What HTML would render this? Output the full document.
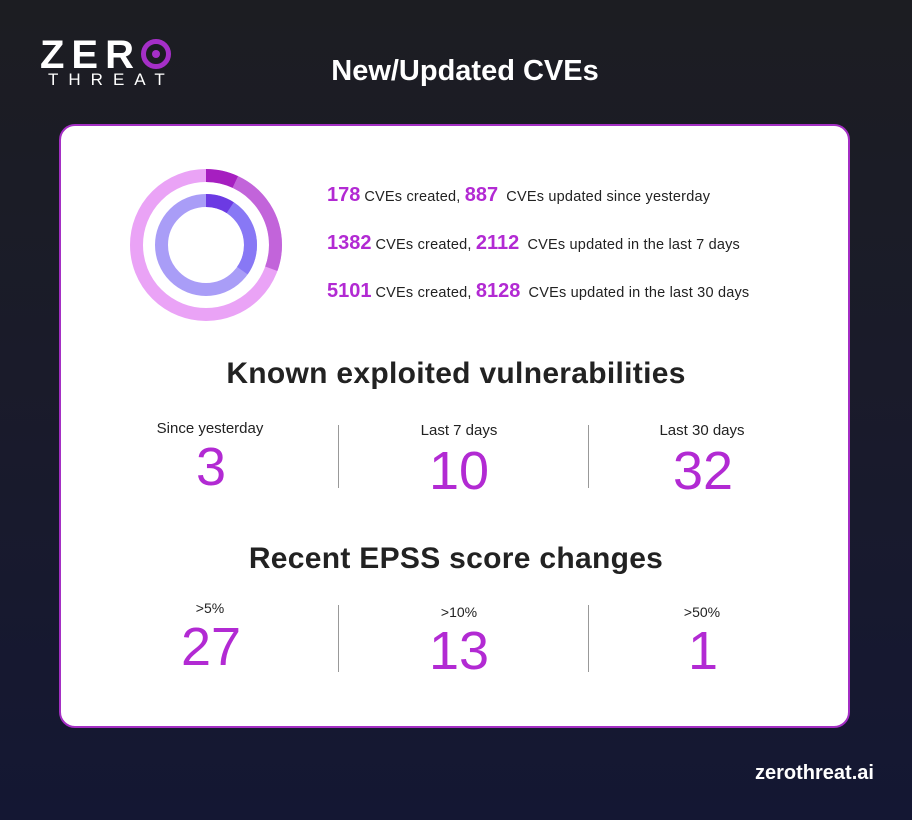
<!DOCTYPE html>
<html><head><style>
*{margin:0;padding:0;box-sizing:border-box}
body{width:912px;height:820px;overflow:hidden;background:linear-gradient(180deg,#1c1d22 0%,#1a1b2a 45%,#141733 100%);font-family:"Liberation Sans",sans-serif;position:relative}
.a{position:absolute;white-space:nowrap}
.card{position:absolute;left:59px;top:124px;width:791px;height:604px;background:#fff;border:2px solid #a42fc4;border-radius:16px}
.row{font-size:14.5px;color:#222;letter-spacing:0.2px}
.row b{font-size:20px;color:#b22ad3;margin-right:4px;letter-spacing:0}
.h{font-size:30px;font-weight:bold;color:#222;width:100%;text-align:center;left:0;letter-spacing:0.3px}
.lbl{font-size:15px;color:#222;transform:translateX(-50%)}
.num{font-size:54px;color:#b22ad3;transform:translateX(-50%);font-weight:normal}
.div{position:absolute;width:1px;background:#999}
</style></head><body>
<div class="a" style="left:40px;top:33px;font-size:40px;font-weight:bold;color:#fff;letter-spacing:7px">ZER<span style="display:inline-block;width:30px;height:30px;border:5px solid #a52fc8;border-radius:50%;position:relative;top:1px"><span style="position:absolute;left:6px;top:6px;width:8px;height:8px;border-radius:50%;background:#a52fc8"></span></span></div>
<div class="a" style="left:48px;top:70px;font-size:17px;color:#fff;letter-spacing:10px">THREAT</div>
<div class="a" style="left:0;width:930px;text-align:center;top:55px;font-size:29px;font-weight:bold;color:#fff">New/Updated CVEs</div>
<div class="card"></div>
<svg class="a" style="left:0;top:0" width="912" height="820">
<g transform="rotate(-90 206 245)" fill="none" stroke-width="13">
<circle cx="206" cy="245" r="69.5" stroke="#eaa3f6"/>
<circle cx="206" cy="245" r="69.5" stroke="#c264da" stroke-dasharray="0 30.3 103.1 400"/>
<circle cx="206" cy="245" r="69.5" stroke="#a61fc0" stroke-dasharray="30.3 500"/>
<circle cx="206" cy="245" r="44.5" stroke="#a99df7"/>
<circle cx="206" cy="245" r="44.5" stroke="#8878f5" stroke-dasharray="0 25.6 71.5 300"/>
<circle cx="206" cy="245" r="44.5" stroke="#6c3ae3" stroke-dasharray="25.6 300"/>
</g></svg>
<div class="a row" style="left:327px;top:184px"><b>178</b>CVEs created, <b>887</b> CVEs updated since yesterday</div>
<div class="a row" style="left:327px;top:232px"><b>1382</b>CVEs created, <b>2112</b> CVEs updated in the last 7 days</div>
<div class="a row" style="left:327px;top:280px"><b>5101</b>CVEs created, <b>8128</b> CVEs updated in the last 30 days</div>
<div class="a h" style="top:357px">Known exploited vulnerabilities</div>
<div class="a lbl" style="left:210px;top:420px">Since yesterday</div>
<div class="a lbl" style="left:459px;top:422px">Last 7 days</div>
<div class="a lbl" style="left:702px;top:422px">Last 30 days</div>
<div class="a num" style="left:211px;top:436px">3</div>
<div class="a num" style="left:459px;top:440px">10</div>
<div class="a num" style="left:703px;top:440px">32</div>
<div class="div" style="left:338px;top:425px;height:63px"></div>
<div class="div" style="left:588px;top:425px;height:63px"></div>
<div class="a h" style="top:542px">Recent EPSS score changes</div>
<div class="a lbl" style="left:210px;top:600px;font-size:14px">&gt;5%</div>
<div class="a lbl" style="left:459px;top:604px;font-size:14px">&gt;10%</div>
<div class="a lbl" style="left:702px;top:604px;font-size:14px">&gt;50%</div>
<div class="a num" style="left:211px;top:616px">27</div>
<div class="a num" style="left:459px;top:620px">13</div>
<div class="a num" style="left:703px;top:620px">1</div>
<div class="div" style="left:338px;top:605px;height:67px"></div>
<div class="div" style="left:588px;top:605px;height:67px"></div>
<div class="a" style="left:755px;top:762px;font-size:20px;font-weight:bold;color:#fff">zerothreat.ai</div>
</body></html>
